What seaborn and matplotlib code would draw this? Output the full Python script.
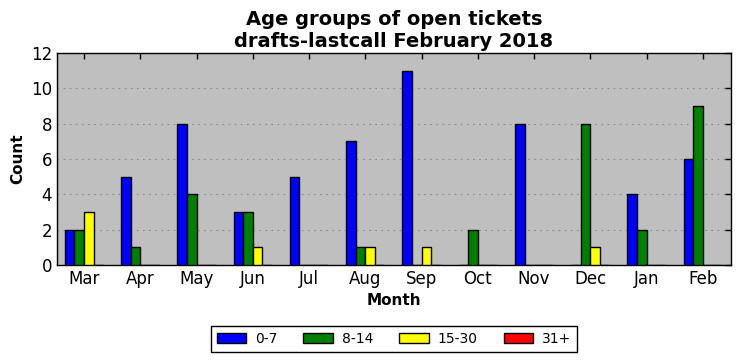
import matplotlib
matplotlib.use("Agg")
import matplotlib.pyplot as plt
import seaborn as sns
import pandas as pd

months = ["Mar", "Apr", "May", "Jun", "Jul", "Aug", "Sep", "Oct", "Nov", "Dec", "Jan", "Feb"]
groups = ["0-7", "8-14", "15-30", "31+"]
g0_7 = [2, 5, 8, 3, 5, 7, 11, 0, 8, 0, 4, 6]
g8_14 = [2, 1, 4, 3, 0, 1, 0, 2, 0, 8, 2, 9]
g15_30 = [3, 0, 0, 1, 0, 1, 1, 0, 0, 1, 0, 0]
g31 = [0, 0, 0, 0, 0, 0, 0, 0, 0, 0, 0, 0]
colors = ["#0000ff", "#008000", "#ffff00", "#ff0000"]

rows = []
for g, vals in zip(groups, [g0_7, g8_14, g15_30, g31]):
    for m, v in zip(months, vals):
        rows.append({"Month": m, "Group": g, "Count": v})
df = pd.DataFrame(rows)

sns.set_style("white")
plt.rcParams['font.family'] = ['DejaVu Sans']
plt.rcParams['text.color'] = 'black'
plt.rcParams['axes.labelcolor'] = 'black'
plt.rcParams['xtick.color'] = 'black'
plt.rcParams['ytick.color'] = 'black'

fig = plt.figure(figsize=(7.41, 3.61), dpi=100)
ax = fig.add_axes([57/741, 1 - 265/361, (731-57)/741, (265-53)/361])
ax.set_facecolor("#bfbfbf")

sns.barplot(data=df, x="Month", y="Count", hue="Group", order=months, hue_order=groups,
            palette=colors, width=0.68, edgecolor="black", linewidth=1, saturation=1,
            ax=ax, zorder=3)

ax.set_xlim(-0.48, 11.5)
ax.set_ylim(0, 12)
ax.set_yticks(range(0, 13, 2))
ax.yaxis.grid(True, linestyle=(0, (1.5, 4)), color="#8a8a8a", linewidth=0.8, zorder=0)
ax.xaxis.grid(False)
ax.set_axisbelow(True)
for s in ax.spines.values():
    s.set_visible(True)
    s.set_color("black")
    s.set_linewidth(1)
ax.tick_params(direction="in", top=True, right=True, length=4, width=1, labelsize=12,
               color="black", labelcolor="black")

ax.set_xlabel("Month", fontsize=11, fontweight="bold", color="black")
ax.set_ylabel("Count", fontsize=11, fontweight="bold", color="black")
ax.set_title("Age groups of open tickets\ndrafts-lastcall February 2018", fontsize=14,
             fontweight="bold", pad=4, color="black")

leg = ax.legend(loc="upper center", bbox_to_anchor=(0.5, -0.257), ncol=4, fontsize=10,
                frameon=True, fancybox=False, edgecolor="black", framealpha=1,
                handlelength=2.1, handletextpad=0.65, columnspacing=1.9, borderpad=0.4)
leg.get_frame().set_linewidth(1)
for t in leg.get_texts():
    t.set_color("black")

fig.savefig("out.png", dpi=100)
